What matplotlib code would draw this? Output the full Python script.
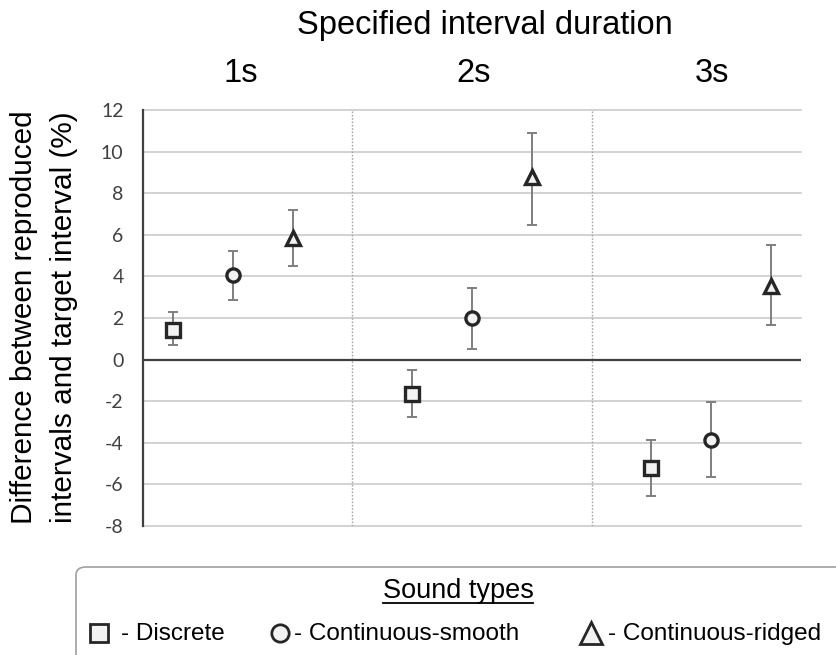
import matplotlib
matplotlib.use("Agg")
import matplotlib.pyplot as plt
from matplotlib.lines import Line2D
from matplotlib.patches import FancyBboxPatch
import numpy as np

# ---- data ----
durations = ["1s", "2s", "3s"]
sound_types = ["Discrete", "Continuous-smooth", "Continuous-ridged"]
markers = ["s", "o", "^"]

discrete_mean = [1.44, -1.65, -5.22]
discrete_upper = [2.27, -0.51, -3.85]
discrete_lower = [0.69, -2.77, -6.54]

smooth_mean = [4.09, 1.99, -3.86]
smooth_upper = [5.21, 3.43, -2.03]
smooth_lower = [2.85, 0.50, -5.66]

ridged_mean = [5.85, 8.78, 3.56]
ridged_upper = [7.18, 10.91, 5.51]
ridged_lower = [4.52, 6.49, 1.67]

yticks = [-8, -6, -4, -2, 0, 2, 4, 6, 8, 10, 12]

means = [discrete_mean, smooth_mean, ridged_mean]
uppers = [discrete_upper, smooth_upper, ridged_upper]
lowers = [discrete_lower, smooth_lower, ridged_lower]

W, H = 837, 655
fig = plt.figure(figsize=(W / 100, H / 100), dpi=100)
ax = fig.add_axes([143 / W, 1 - 526 / H, (801 - 143) / W, (526 - 110) / H])

edge = "#262626"
face = "#f2f2f2"
errc = "#7f7f7f"

for i, (m, up, lo, mk) in enumerate(zip(means, uppers, lowers, markers)):
    m = np.array(m); up = np.array(up); lo = np.array(lo)
    xs = np.arange(len(durations)) * 4 + 1 + i
    ax.errorbar(xs, m, yerr=[m - lo, up - m], fmt="none", ecolor=errc,
                elinewidth=1.4, capsize=3.5, capthick=1.4, zorder=3)
    ax.plot(xs, m, linestyle="none", marker=mk, markersize=9.5 if mk != "^" else 10.5,
            markerfacecolor=face, markeredgecolor=edge, markeredgewidth=2.4, zorder=4)

ax.set_xlim(0.5, 11.5)
ax.set_ylim(-8, 12)
ax.set_yticks(yticks)
ax.set_yticklabels([str(t) for t in yticks], fontsize=14, family="Lato", color="#404040")
ax.set_xticks([])
ax.tick_params(axis="y", length=0, pad=14)

for y in yticks:
    if y == 0:
        continue
    ax.axhline(y, color="#c6c6c6", linewidth=1.1, zorder=1, clip_on=False)
ax.axhline(0, color="#404040", linewidth=1.6, zorder=2)
for xv in [4, 8]:
    ax.axvline(xv, color="#a6a6a6", linewidth=1.0, linestyle=(0, (1.2, 1.2)), zorder=1)

for s in ["top", "right", "bottom"]:
    ax.spines[s].set_visible(False)
ax.spines["left"].set_color("#404040")
ax.spines["left"].set_linewidth(1.6)

font = "Liberation Sans"
# titles
fig.text(485 / W, 1 - 34 / H, "Specified interval duration", ha="center", va="baseline",
         fontsize=23.5, family=font)
group_px = [241, 474, 712]
for lab, gx in zip(durations, group_px):
    fig.text(gx / W, 1 - 82 / H, lab, ha="center", va="baseline", fontsize=23.5, family=font)

# y label
fig.text(44 / W, 1 - 317 / H, "Difference between reproduced\nintervals and target interval (%)",
         rotation=90, ha="center", va="center", multialignment="center",
         fontsize=21.4, family=font, linespacing=1.55)

# legend box
box = FancyBboxPatch((76 / W, -0.05), 1.0, (H - 567) / H + 0.05,
                     boxstyle="round,pad=0,rounding_size=0.012",
                     transform=fig.transFigure, facecolor="white",
                     edgecolor="#a0a0a0", linewidth=1.2, clip_on=False)
fig.patches.append(box)

title = fig.text(458 / W, 1 - 598 / H, "Sound types", ha="center", va="baseline",
                 fontsize=19.5, family=font)
fig.canvas.draw()
bb = title.get_window_extent()
uy = (H - 603) / H
fig.lines.append(Line2D([bb.x0 / W, bb.x1 / W], [uy, uy], transform=fig.transFigure,
                        color="black", linewidth=1.3))

leg_marker_x = [99, 280, 591]
leg_text_x = [121, 294, 608]
for mk, mx, tx, name in zip(markers, leg_marker_x, leg_text_x, sound_types):
    fig.lines.append(Line2D([mx / W], [1 - 633 / H], transform=fig.transFigure,
                            marker=mk, markersize=12.5 if mk != "^" else 16,
                            markerfacecolor=face, markeredgecolor=edge, markeredgewidth=2.0,
                            linestyle="none"))
    fig.text(tx / W, 1 - 640 / H, "- " + name, ha="left", va="baseline",
             fontsize=17.5, family=font)

fig.savefig("out.png", dpi=100)
